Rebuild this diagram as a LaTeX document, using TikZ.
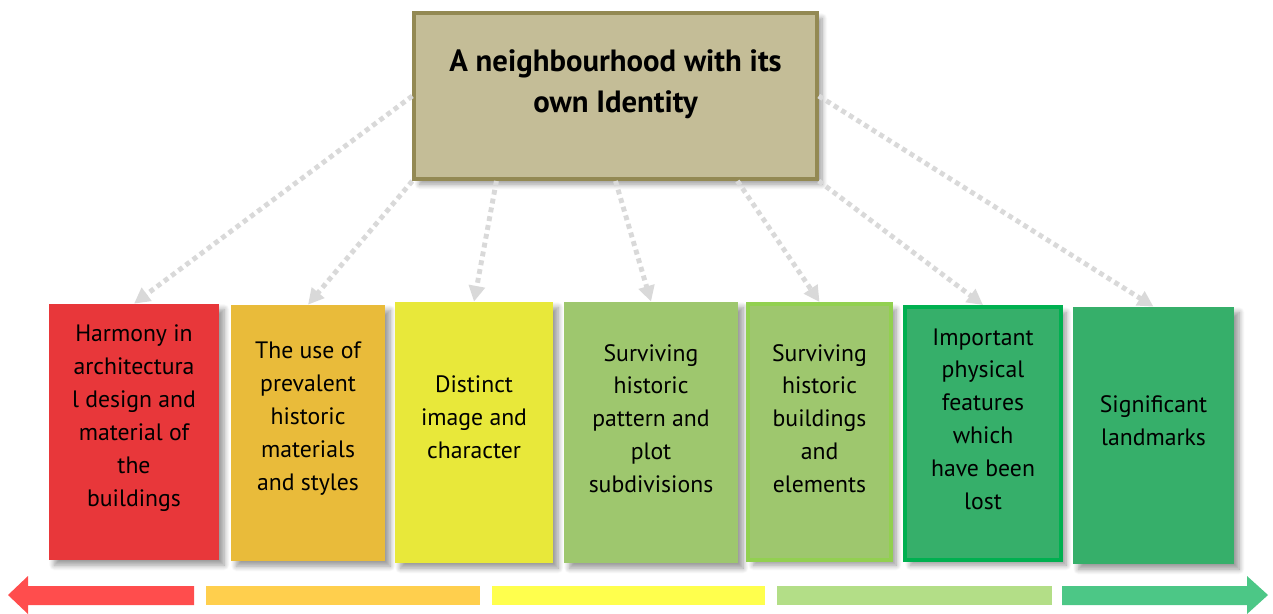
\documentclass[tikz,border=0pt]{standalone}
\usepackage{fontspec}
\setmainfont{PT Sans}
\usetikzlibrary{arrows.meta,calc,shadows.blur}
\definecolor{tanfill}{HTML}{C4BD97}
\definecolor{tanline}{HTML}{938953}
\definecolor{cred}{HTML}{E8373A}
\definecolor{corange}{HTML}{E9BB3A}
\definecolor{cyellow}{HTML}{E8E83A}
\definecolor{clight}{HTML}{9EC76E}
\definecolor{clightline}{HTML}{92D050}
\definecolor{cgreen}{HTML}{36AF6A}
\definecolor{cgreenline}{HTML}{00B050}
\definecolor{dotgray}{HTML}{D9D9D9}
\definecolor{ared}{HTML}{FF4D4D}
\definecolor{aorange}{HTML}{FFCF4D}
\definecolor{ayellow}{HTML}{FFFF4D}
\definecolor{alight}{HTML}{B3DE87}
\definecolor{agreen}{HTML}{4CC786}
\tikzset{
  box/.style={rectangle, inner sep=0pt, blur shadow={shadow xshift=3pt, shadow yshift=-3pt, shadow blur steps=8, shadow blur radius=3pt}},
  lbl/.style={align=center, font=\fontsize{13.5}{18.7}\selectfont},
  link/.style={dotgray, line width=2.8pt, dash pattern=on 2.8pt off 2.3pt, -{Triangle[length=9pt,width=9pt]}},
}
\begin{document}
\begin{tikzpicture}[x=0.02cm, y=-0.02cm]
\useasboundingbox (0,0) rectangle (1273,613);
% top box
\node[box, fill=tanfill, draw=tanline, line width=2.3pt, minimum width=8.05cm, minimum height=3.32cm] (b0) at (615.5,96) {};
\node[lbl, font=\fontsize{17.5}{23.2}\selectfont\bfseries] (t0) at (615.5,84) {A neighbourhood with its\\own Identity};
% bottom boxes
\node[box, fill=cred, minimum width=3.4cm, minimum height=5.12cm] (b1) at (134,432) {};
\node[box, fill=corange, minimum width=3.08cm, minimum height=5.12cm] (b2) at (308,433) {};
\node[box, fill=cyellow, minimum width=3.16cm, minimum height=5.22cm] (b3) at (474,432.5) {};
\node[box, fill=clight, minimum width=3.48cm, minimum height=5.22cm] (b4) at (651,432.5) {};
\node[box, fill=clight, draw=clightline, line width=2.3pt, minimum width=2.86cm, minimum height=5.12cm] (b5) at (819.5,432) {};
\node[box, fill=cgreen, draw=cgreenline, line width=2.3pt, minimum width=3.12cm, minimum height=5.06cm] (b6) at (983,433.5) {};
\node[box, fill=cgreen, minimum width=3.22cm, minimum height=5.14cm] (b7) at (1153.5,435.5) {};
\node[lbl] (t1) at (134,418) {Harmony in\\architectura\\l design and\\material of\\the\\buildings};
\node[lbl] (t2) at (308,418.5) {The use of\\prevalent\\historic\\materials\\and styles};
\node[lbl] (t3) at (474,417) {Distinct\\image and\\character};
\node[lbl] (t4) at (651,418.5) {Surviving\\historic\\pattern and\\plot\\subdivisions};
\node[lbl] (t5) at (819.5,418.5) {Surviving\\historic\\buildings\\and\\elements};
\node[lbl] (t6) at (983,419) {Important\\physical\\features\\which\\have been\\lost};
\node[lbl] (t7) at (1153.5,421) {Significant\\landmarks};
% dotted links
\draw[link] (b0.west) -- (b1.north);
\draw[link] (b0.south west) -- (b2.north);
\draw[link] ($(b0.south west)!0.207!(b0.south east)$) -- (b3.north);
\draw[link] (b0.south) -- (b4.north);
\draw[link] ($(b0.south west)!0.8!(b0.south east)$) -- (b5.north);
\draw[link] (b0.south east) -- (b6.north);
\draw[link] (b0.east) -- (b7.north);
% scale bar
\fill[ared] (8,595) -- (28,576) -- (28,586) -- (194,586) -- (194,605) -- (28,605) -- (28,614) -- cycle;
\fill[aorange] (206,586) rectangle (480,605);
\fill[ayellow] (492,586) rectangle (765,605);
\fill[alight] (777,586) rectangle (1052,605);
\fill[agreen] (1062,586) -- (1247,586) -- (1247,576) -- (1268,595) -- (1247,614) -- (1247,605) -- (1062,605) -- cycle;
\end{tikzpicture}
\end{document}
